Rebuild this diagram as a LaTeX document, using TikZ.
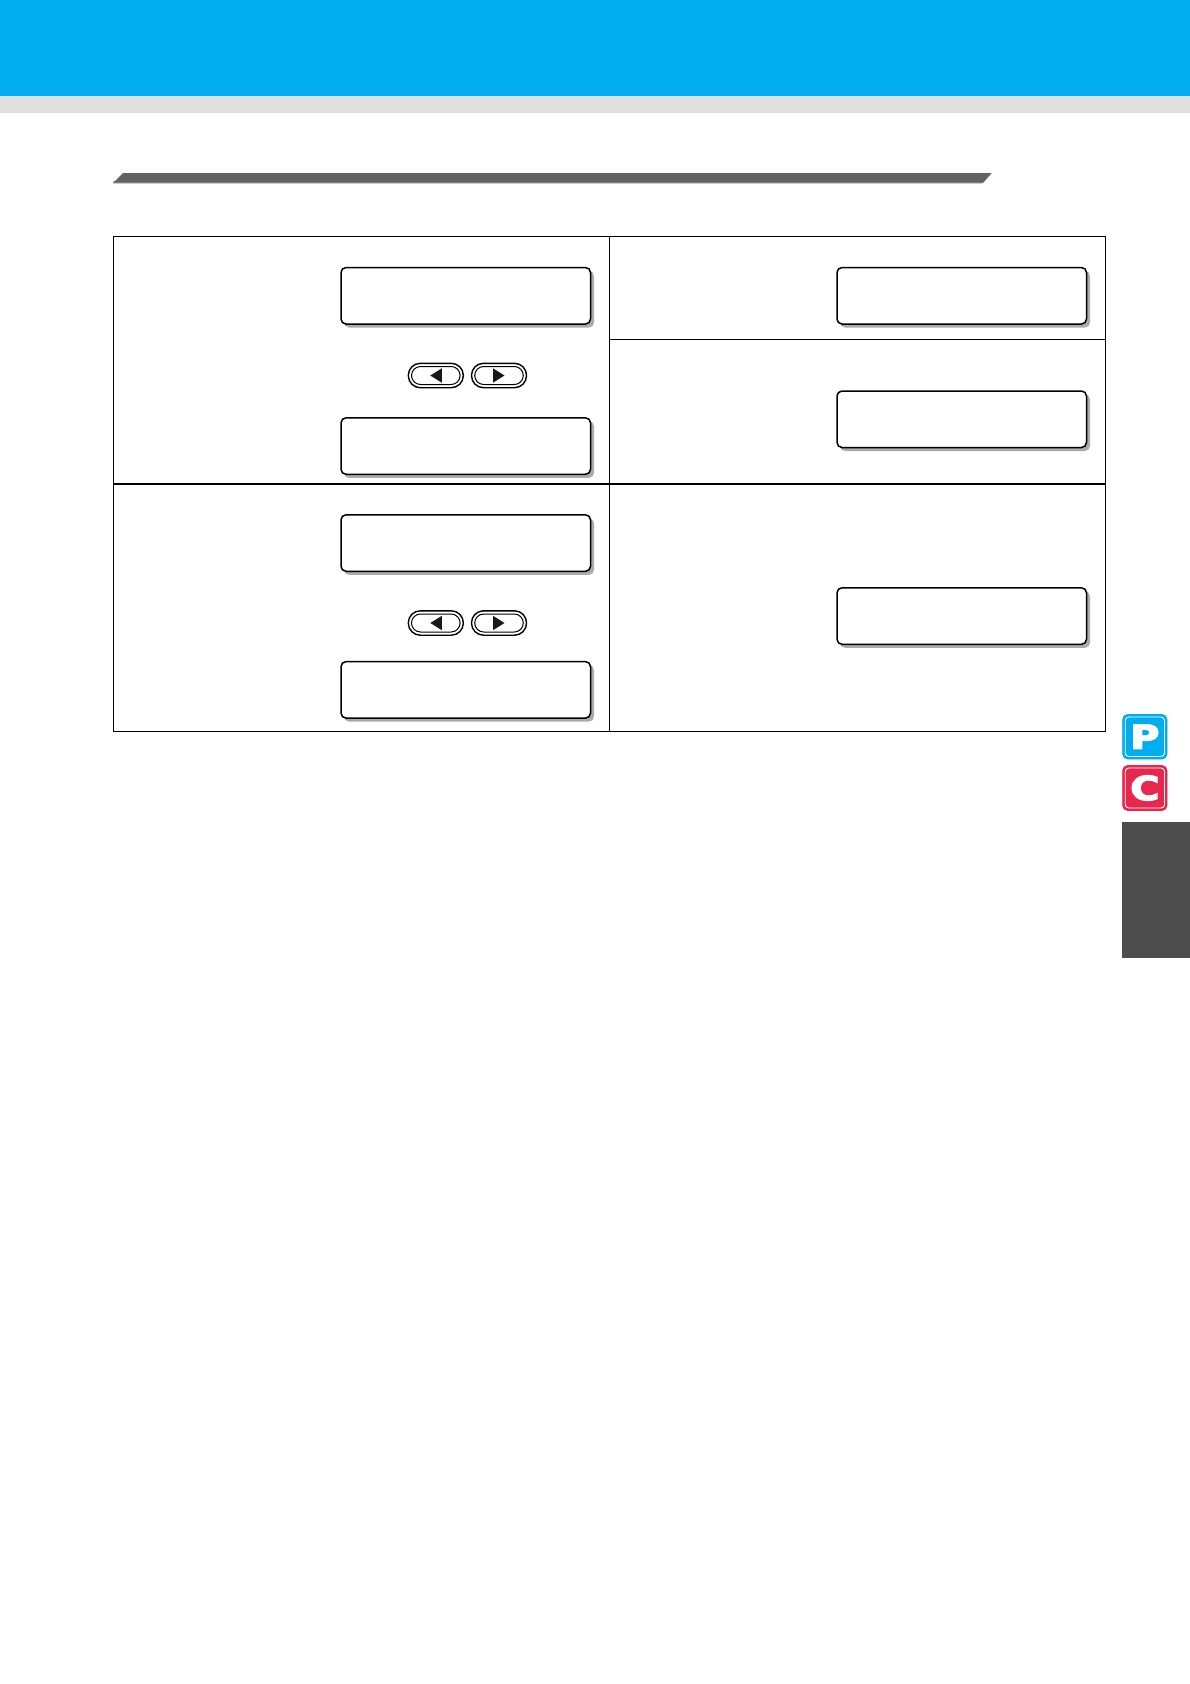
\documentclass[tikz,border=0pt]{standalone}
\usepackage{fontspec}
\newfontfamily\letra[FakeBold=4]{DejaVu Sans Bold}
\definecolor{azul}{HTML}{00AEEF}
\definecolor{rojo}{HTML}{E8274F}
\definecolor{gris}{HTML}{DFDFDF}
\definecolor{oscuro}{HTML}{4D4D4D}
\definecolor{barra}{HTML}{636363}
\newcommand{\pantalla}[2]{
	\fill [black!33,rounded corners=5pt] (#1+3,#2+3.5) rectangle ++(250,56.5);
	\filldraw [fill=white,draw=black,line width=1.5pt,rounded corners=5pt] (#1,#2) rectangle ++(249.5,56.5);
	}
\newcommand{\boton}[3]{
	\draw [line width=1.4pt,rounded corners=12pt] (#1,#2-12.2) rectangle ++(55,24.4);
	\draw [line width=1pt,rounded corners=9pt] (#1+3.2,#2-9) rectangle ++(48.6,18);
	\fill [black!90] (#1+27.5-#3*5.5,#2) -- ++(#3*11.5,-7.2) -- ++(0,14.4) -- cycle;
	}
\newcommand{\icono}[4]{
	\filldraw [fill=#1,draw=#1,line width=0.8pt,rounded corners=5pt] (1122.7,#2) rectangle ++(44.3,#3);
	\draw [white,line width=0.9pt,rounded corners=3.5pt] (1125.2,#2+2.5) rectangle ++(39.3,#3-5);
	\node [white,font=\letra\fontsize{33}{33}\selectfont,xscale=1.2] (letra#4) at (1144.9,#2+#3/2) {#4};
	}

\begin{document}
\begin{tikzpicture}[x=1pt,y=-1pt]
	\useasboundingbox (0,0) rectangle (1190,1684);
	\fill [azul] (0,0) rectangle (1190,96);
	\fill [gris] (0,96) rectangle (1190,113);
	% barra del titulo
	\fill [black!30] (113,181) -- (983.5,181) -- (982.5,183.5) -- (113,183.5) -- cycle;
	\fill [barra] (123,173) -- (991.7,173) -- (983.5,182.5) -- (113.5,182.5) -- cycle;
	% tabla
	\draw [line width=1.2pt] (113.5,236.5) rectangle (1105.5,731.5);
	\draw [line width=1.2pt] (609.5,236.5) -- (609.5,731.5);
	\draw [line width=1.2pt] (113.5,484) -- (1105.5,484);
	\draw [line width=1.2pt] (609.5,339.5) -- (1105.5,339.5);
	\pantalla{341}{267.5}
	\pantalla{341}{417.8}
	\pantalla{341}{514.8}
	\pantalla{341}{661.6}
	\pantalla{837}{267.5}
	\pantalla{837}{391}
	\pantalla{837}{587.8}
	\boton{408.3}{375.5}{1}
	\boton{471.5}{375.5}{-1}
	\boton{408.3}{623}{1}
	\boton{471.5}{623}{-1}
	% lateral
	\icono{azul}{714.5}{44.5}{P}
	\icono{rojo}{765.5}{45}{C}
	\fill [oscuro] (1122,822) rectangle (1190,958);
\end{tikzpicture}
\end{document}
